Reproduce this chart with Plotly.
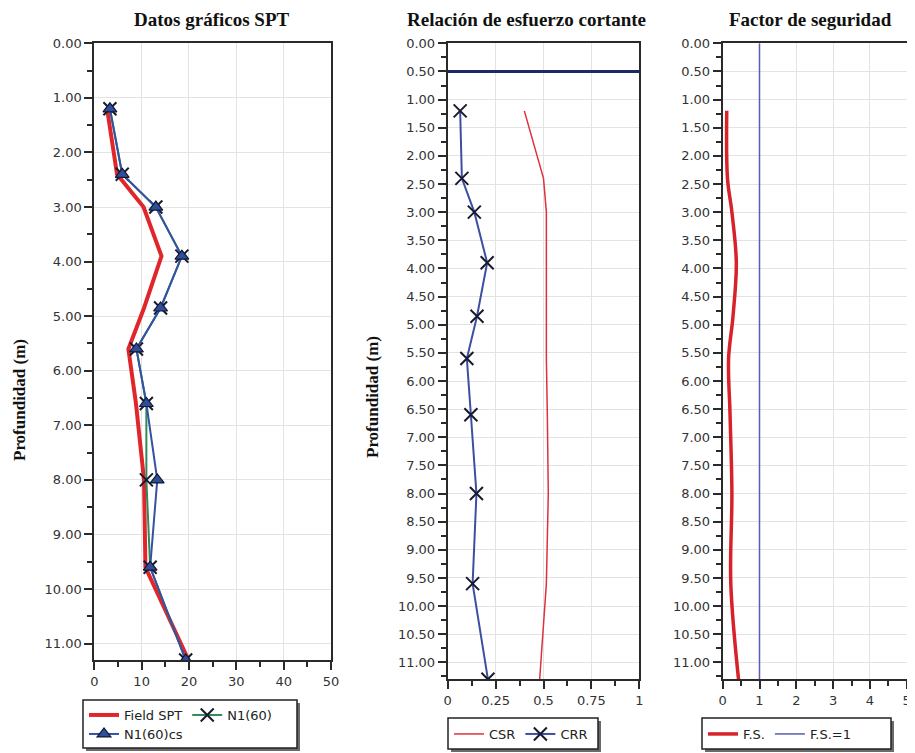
import plotly.graph_objects as go

# page body has an 8px margin; the figure is sized to fill the rest of the window
OFF = 8
W, H = 915 - OFF, 753 - OFF

# ---------------- data ----------------
depth = [1.2, 2.4, 3.0, 3.9, 4.85, 5.6, 6.6, 8.0, 9.6, 11.3]

field_spt = [2.7, 4.8, 10.4, 14.2, 10.5, 7.2, 8.8, 10.5, 10.8, 19.9]
n1_60 = [3.3, 5.9, 13.0, 18.5, 14.0, 8.9, 11.0, 11.0, 11.8, 19.3]
n1_60cs = [3.3, 5.9, 13.0, 18.5, 14.0, 8.9, 11.0, 13.3, 11.8, 19.3]

csr = [0.40, 0.50, 0.515, 0.515, 0.515, 0.515, 0.52, 0.525, 0.515, 0.48]
crr = [0.065, 0.074, 0.139, 0.206, 0.153, 0.10, 0.121, 0.15, 0.13, 0.21]

fs = [0.11, 0.13, 0.25, 0.37, 0.28, 0.16, 0.20, 0.25, 0.22, 0.43]
fs_limit = [1, 1]
fs_limit_depth = [0, 11.3]

water_table = [0.5, 0.5]
water_table_x = [0, 1]

max_depth = 11.3

titles = ["Datos gráficos SPT", "Relación de esfuerzo cortante", "Factor de seguridad"]
y_title = "Profundidad (m)"


def px(x):
    return (x - OFF) / W


def py(y):
    return 1 - (y - OFF) / H


fig = go.Figure()

XCOL = "#1a1a2e"

# Panel 1
fig.add_trace(go.Scatter(x=field_spt, y=depth, mode="lines", name="Field SPT",
                         line=dict(color="#e0262b", width=4),
                         xaxis="x", yaxis="y", legend="legend"))
fig.add_trace(go.Scatter(x=n1_60, y=depth, mode="lines+markers", name="N1(60)",
                         line=dict(color="#2f8a5a", width=2),
                         marker=dict(symbol="x-thin-open", size=13, color=XCOL,
                                     line=dict(color=XCOL, width=2)),
                         xaxis="x", yaxis="y", legend="legend"))
fig.add_trace(go.Scatter(x=n1_60cs, y=depth, mode="lines+markers", name="N1(60)cs",
                         line=dict(color="#3551a3", width=2),
                         marker=dict(symbol="triangle-up", size=12, color="#2e4e9c",
                                     line=dict(color="#111830", width=1.2)),
                         xaxis="x", yaxis="y", legend="legend4"))

# Panel 2
fig.add_trace(go.Scatter(x=water_table_x, y=water_table, mode="lines", showlegend=False,
                         line=dict(color="#1c2a66", width=3), xaxis="x2", yaxis="y2"))
fig.add_trace(go.Scatter(x=csr, y=depth, mode="lines", name="CSR",
                         line=dict(color="#e0303a", width=1.5),
                         xaxis="x2", yaxis="y2", legend="legend2"))
fig.add_trace(go.Scatter(x=crr, y=depth, mode="lines+markers", name="CRR",
                         line=dict(color="#3c4fa0", width=2),
                         marker=dict(symbol="x-thin-open", size=13, color=XCOL,
                                     line=dict(color=XCOL, width=2)),
                         xaxis="x2", yaxis="y2", legend="legend2"))

# Panel 3
fig.add_trace(go.Scatter(x=fs, y=depth, mode="lines", name="F.S.",
                         line=dict(color="#d8222a", width=3.5, shape="spline"),
                         xaxis="x3", yaxis="y3", legend="legend3"))
fig.add_trace(go.Scatter(x=fs_limit, y=fs_limit_depth, mode="lines", name="F.S.=1",
                         line=dict(color="#5660aa", width=1.5),
                         xaxis="x3", yaxis="y3", legend="legend3"))

tickfont = dict(family="DejaVu Sans", size=13, color="#333333")
grid = "#e3e3e3"
axline = dict(showline=True, linecolor="#2a2a2a", linewidth=2, mirror=True,
              showgrid=True, gridcolor=grid, gridwidth=1, zeroline=False,
              ticks="outside", ticklen=8, tickcolor="#2a2a2a", tickwidth=1.5,
              tickfont=tickfont, automargin=False)
minor_style = dict(ticks="outside", ticklen=5, tickcolor="#2a2a2a", showgrid=False)

ydom1 = [py(660), py(43.3)]
ydom2 = [py(679.3), py(43.3)]

fig.update_layout(
    width=W, height=H,
    margin=dict(l=0, r=0, t=0, b=0, autoexpand=False),
    paper_bgcolor="white", plot_bgcolor="white",
    xaxis=dict(domain=[px(94.3), px(331)], range=[0, 50], dtick=10, anchor="y",
               minor=dict(dtick=5, **minor_style), **axline),
    yaxis=dict(domain=ydom1, range=[max_depth, 0], dtick=1, tick0=0, tickformat=".2f",
               anchor="x", minor=dict(dtick=0.5, **minor_style), **axline),
    xaxis2=dict(domain=[px(447.7), px(639.3)], range=[0, 1], tickvals=[0, 0.25, 0.5, 0.75, 1],
                ticktext=["0", "0.25", "0.5", "0.75", "1"], anchor="y2",
                minor=dict(dtick=0.125, **minor_style), **axline),
    yaxis2=dict(domain=ydom2, range=[max_depth, 0], dtick=0.5, tick0=0, tickformat=".2f",
                anchor="x2", minor=dict(dtick=0.25, **minor_style), **axline),
    xaxis3=dict(domain=[px(722.7), px(906.7)], range=[0, 5], dtick=1, anchor="y3",
                minor=dict(dtick=0.5, **minor_style), **axline),
    yaxis3=dict(domain=ydom2, range=[max_depth, 0], dtick=0.5, tick0=0, tickformat=".2f",
                anchor="x3", minor=dict(dtick=0.25, **minor_style), **axline),
    showlegend=True,
)

legfont = dict(family="DejaVu Sans", size=13, color="#222222")
leg_common = dict(orientation="h", bgcolor="rgba(0,0,0,0)", borderwidth=0,
                  font=legfont, xanchor="left", yanchor="top", itemclick=False,
                  tracegroupgap=0)
fig.update_layout(
    legend=dict(x=px(84), y=py(700), **leg_common),
    legend4=dict(x=px(84), y=py(719), **leg_common),
    legend2=dict(x=px(449), y=py(719), **leg_common),
    legend3=dict(x=px(703), y=py(719), **leg_common),
)

# legend frames with shadow
frames = [(83, 700, 297, 748), (448, 718, 598, 749), (702, 718, 891, 749)]
for (x0, y0, x1, y1) in frames:
    fig.add_shape(type="rect", xref="paper", yref="paper",
                  x0=px(x0 + 3), x1=px(x1 + 3), y0=py(y0 + 3), y1=py(y1 + 3),
                  fillcolor="#6a6a6a", line=dict(width=0), layer="below")
    fig.add_shape(type="rect", xref="paper", yref="paper",
                  x0=px(x0), x1=px(x1), y0=py(y0), y1=py(y1),
                  fillcolor="white", line=dict(color="#222222", width=1.5), layer="below")

# titles
title_font = dict(family="Liberation Serif", size=19, color="#111111")
for t, cx in zip(titles, [211, 526, 810]):
    fig.add_annotation(text="<b>%s</b>" % t, x=px(cx), y=1.0, xref="paper", yref="paper",
                       showarrow=False, font=title_font, xanchor="center", yanchor="top",
                       borderpad=0)

for cx, cy in [(19, 400), (372, 397)]:
    fig.add_annotation(text="<b>%s</b>" % y_title, x=px(cx), y=py(cy), xref="paper", yref="paper",
                       showarrow=False, font=dict(family="Liberation Serif", size=17, color="#111111"),
                       textangle=-90, xanchor="center", yanchor="middle")

fig.write_html("out.html")
